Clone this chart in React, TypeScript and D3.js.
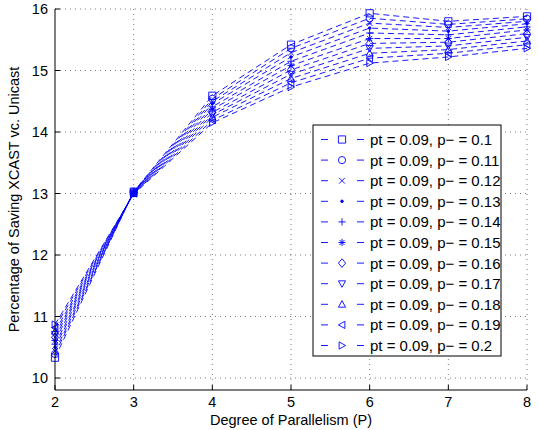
import React, { useRef, useEffect } from "react";
import * as d3 from "d3";

// degree of parallelism on the x axis
const parallelism = [2, 3, 4, 5, 6, 7, 8];
const xTicks = [2, 3, 4, 5, 6, 7, 8];
const yTicks = [10, 11, 12, 13, 14, 15, 16];

const pMinus = [0.1, 0.11, 0.12, 0.13, 0.14, 0.15, 0.16, 0.17, 0.18, 0.19, 0.2];
const markers = ["s", "o", "x", ".", "+", "*", "d", "v", "^", "<", ">"];

// percentage of saving, one row per p- value
const save010 = [10.33, 13.03, 14.59, 15.42, 15.93, 15.80, 15.88];
const save011 = [10.39, 13.03, 14.54, 15.36, 15.85, 15.75, 15.84];
const save012 = [10.44, 13.02, 14.50, 15.29, 15.77, 15.70, 15.80];
const save013 = [10.50, 13.02, 14.46, 15.22, 15.69, 15.64, 15.76];
const save014 = [10.55, 13.02, 14.41, 15.15, 15.61, 15.58, 15.71];
const save015 = [10.61, 13.01, 14.37, 15.08, 15.52, 15.52, 15.66];
const save016 = [10.66, 13.01, 14.32, 15.01, 15.44, 15.46, 15.60];
const save017 = [10.71, 13.01, 14.28, 14.94, 15.36, 15.40, 15.54];
const save018 = [10.76, 13.00, 14.24, 14.87, 15.28, 15.34, 15.48];
const save019 = [10.82, 13.00, 14.19, 14.80, 15.20, 15.28, 15.42];
const save020 = [10.87, 12.99, 14.15, 14.73, 15.12, 15.22, 15.36];

const savings = [save010, save011, save012, save013, save014, save015, save016, save017, save018, save019, save020];

const BLUE = "#0000ff";

// outline marker shapes, matlab style
const markerPath = (m: string, r: number) => {
  switch (m) {
    case "s": return `M${-r},${-r}H${r}V${r}H${-r}Z`;
    case "o": return `M${r},0A${r},${r} 0 1,1 ${-r},0A${r},${r} 0 1,1 ${r},0Z`;
    case "x": return `M${-r * 0.8},${-r * 0.8}L${r * 0.8},${r * 0.8}M${-r * 0.8},${r * 0.8}L${r * 0.8},${-r * 0.8}`;
    case ".": return `M1.3,0A1.3,1.3 0 1,1 -1.3,0A1.3,1.3 0 1,1 1.3,0Z`;
    case "+": return `M${-r},0H${r}M0,${-r}V${r}`;
    case "*": return `M${-r},0H${r}M0,${-r}V${r}M${-r * 0.7},${-r * 0.7}L${r * 0.7},${r * 0.7}M${-r * 0.7},${r * 0.7}L${r * 0.7},${-r * 0.7}`;
    case "d": return `M0,${-r * 1.2}L${r},0L0,${r * 1.2}L${-r},0Z`;
    case "v": return `M${-r},${-r * 0.8}H${r}L0,${r}Z`;
    case "^": return `M${-r},${r * 0.8}H${r}L0,${-r}Z`;
    case "<": return `M${r * 0.8},${-r}V${r}L${-r},0Z`;
    case ">": return `M${-r * 0.8},${-r}V${r}L${r},0Z`;
    default: return "";
  }
};

const App = () => {
  const ref = useRef<HTMLDivElement>(null);

  useEffect(() => {
    const width = 538;
    const height = 430;
    const left = 55, right = 527, top = 9, bottom = 390;
    const font = "'Liberation Sans', Arial, Helvetica, sans-serif";
    const fs = 14.5;

    const x = d3.scaleLinear().domain([2, 8]).range([left, right]);
    const y = d3.scaleLinear().domain([9.805, 16]).range([bottom, top]);

    const svg = d3.create("svg")
      .attr("width", width)
      .attr("height", height)
      .attr("viewBox", [0, 0, width, height])
      .style("position", "absolute")
      .style("left", "0px")
      .style("top", "0px")
      .style("background", "#fff")
      .style("font-family", font);

    // grid
    const grid = svg.append("g").attr("stroke", "#444").attr("stroke-width", 0.7).attr("stroke-dasharray", "1,4");
    xTicks.slice(1).forEach(t => {
      grid.append("line").attr("x1", x(t)).attr("x2", x(t)).attr("y1", bottom).attr("y2", top);
    });
    yTicks.forEach(t => {
      grid.append("line").attr("x1", left).attr("x2", right).attr("y1", y(t)).attr("y2", y(t));
    });

    // lines
    const line = d3.line<number>().x((d, i) => x(parallelism[i])).y(d => y(d));
    const lines = svg.append("g");
    savings.forEach(s => {
      lines.append("path")
        .attr("d", line(s))
        .attr("fill", "none")
        .attr("stroke", BLUE)
        .attr("stroke-width", 0.9)
        .attr("stroke-dasharray", "6,4");
    });

    // markers
    const marks = svg.append("g");
    savings.forEach((s, k) => {
      s.forEach((v, i) => {
        marks.append("path")
          .attr("transform", `translate(${x(parallelism[i])},${y(v)})`)
          .attr("d", markerPath(markers[k], 3.6))
          .attr("fill", markers[k] === "." ? BLUE : "none")
          .attr("stroke", BLUE)
          .attr("stroke-width", 0.9);
      });
    });

    // axes
    const axes = svg.append("g").attr("stroke", "#000").attr("stroke-width", 1);
    axes.append("line").attr("x1", left).attr("x2", right).attr("y1", bottom).attr("y2", bottom);
    axes.append("line").attr("x1", left).attr("x2", left).attr("y1", bottom).attr("y2", top);
    xTicks.forEach(t => {
      axes.append("line").attr("x1", x(t)).attr("x2", x(t)).attr("y1", bottom).attr("y2", bottom - 5);
    });
    yTicks.forEach(t => {
      axes.append("line").attr("x1", left).attr("x2", left + 5).attr("y1", y(t)).attr("y2", y(t));
    });

    xTicks.forEach(t => {
      svg.append("text")
        .attr("x", x(t)).attr("y", bottom + 17)
        .attr("text-anchor", "middle")
        .attr("font-size", fs)
        .text(t);
    });
    yTicks.forEach(t => {
      svg.append("text")
        .attr("x", left - 7).attr("y", y(t) + 5)
        .attr("text-anchor", "end")
        .attr("font-size", fs)
        .text(t);
    });

    svg.append("text")
      .attr("x", (left + right) / 2).attr("y", 425)
      .attr("text-anchor", "middle")
      .attr("font-size", fs)
      .text("Degree of Parallelism (P)");

    svg.append("text")
      .attr("transform", `translate(19,${(top + bottom) / 2}) rotate(-90)`)
      .attr("text-anchor", "middle")
      .attr("font-size", fs)
      .text("Percentage of Saving XCAST vc. Unicast");

    // legend
    const lg = svg.append("g");
    lg.append("rect")
      .attr("x", 313).attr("y", 125).attr("width", 188).attr("height", 231)
      .attr("fill", "#fff").attr("stroke", "#000").attr("stroke-width", 1);
    pMinus.forEach((p, k) => {
      const ry = 139.5 + k * 20.6;
      lg.append("line")
        .attr("x1", 321).attr("x2", 364).attr("y1", ry).attr("y2", ry)
        .attr("stroke", BLUE).attr("stroke-width", 0.9).attr("stroke-dasharray", "7,29");
      lg.append("path")
        .attr("transform", `translate(342,${ry})`)
        .attr("d", markerPath(markers[k], 3.6))
        .attr("fill", markers[k] === "." ? BLUE : "none")
        .attr("stroke", BLUE).attr("stroke-width", 0.9);
      lg.append("text")
        .attr("x", 370).attr("y", ry + 5.5)
        .attr("font-size", 15)
        .text(`pt = 0.09, p\u2212 = ${p}`);
    });

    ref.current!.innerHTML = "";
    ref.current!.appendChild(svg.node()!);
  }, []);

  return <div ref={ref} />;
};

export default App;
